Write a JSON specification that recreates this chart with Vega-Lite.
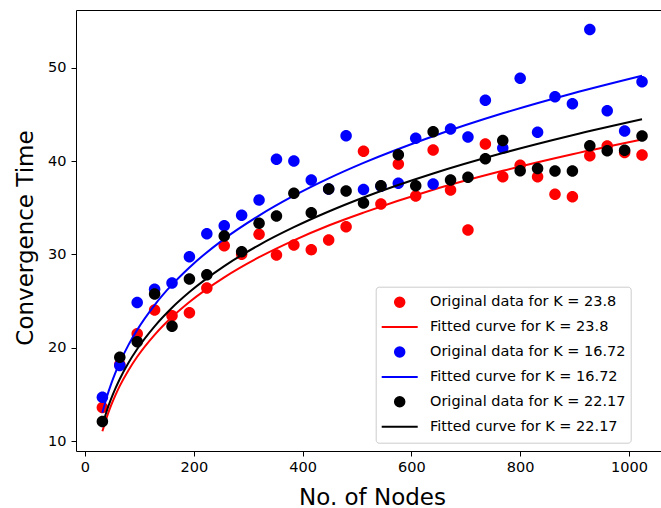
{
  "$schema": "https://vega.github.io/schema/vega-lite/v6.json",
  "autosize": {"type": "none"},
  "width": 586,
  "height": 441,
  "padding": {"left": 76, "top": 10, "right": 0, "bottom": 57},
  "background": "white",
  "config": {
    "view": {"stroke": "#000000", "strokeWidth": 1},
    "axis": {
      "domain": false, "grid": false, "ticks": true, "tickColor": "#000000", "tickSize": 5, "tickWidth": 1,
      "labelFont": "DejaVu Sans", "labelFontSize": 14.5, "labelColor": "#000000",
      "titleFont": "DejaVu Sans", "titleFontSize": 23, "titleFontWeight": "normal", "titleColor": "#000000"
    },
    "legend": {
      "orient": "none", "legendX": 299.7, "legendY": 276.7,
      "padding": 5, "rowPadding": 3.9, "clipHeight": 21,
      "labelFont": "DejaVu Sans", "labelFontSize": 14.5, "labelColor": "#000000", "labelOffset": 11.3, "labelLimit": 400,
      "symbolSize": 1296, "symbolStrokeWidth": 2, "symbolOpacity": 1,
      "fillColor": "rgba(255,255,255,0.8)", "strokeColor": "#cccccc", "cornerRadius": 3
    }
  },
  "datasets": {
    "redPts": [
      {"x": 32, "y": 13.6}, {"x": 64, "y": 18.2}, {"x": 96, "y": 21.5}, {"x": 128, "y": 24.04}, {"x": 160, "y": 23.43},
      {"x": 192, "y": 23.75}, {"x": 224, "y": 26.39}, {"x": 256, "y": 30.93}, {"x": 288, "y": 30.0}, {"x": 320, "y": 32.14},
      {"x": 352, "y": 29.93}, {"x": 384, "y": 31.0}, {"x": 416, "y": 30.5}, {"x": 448, "y": 31.54}, {"x": 480, "y": 32.96},
      {"x": 512, "y": 41.05}, {"x": 544, "y": 35.39}, {"x": 576, "y": 39.68}, {"x": 608, "y": 36.25}, {"x": 640, "y": 41.18},
      {"x": 672, "y": 36.89}, {"x": 704, "y": 32.6}, {"x": 736, "y": 41.82}, {"x": 768, "y": 38.32}, {"x": 800, "y": 39.55},
      {"x": 832, "y": 38.32}, {"x": 864, "y": 36.43}, {"x": 896, "y": 36.18}, {"x": 928, "y": 40.57}, {"x": 960, "y": 41.62},
      {"x": 992, "y": 40.9}, {"x": 1024, "y": 40.64}
    ],
    "redFit": [
      {"x": 32, "y": 11.04}, {"x": 40, "y": 12.54}, {"x": 48, "y": 13.81}, {"x": 56, "y": 14.92}, {"x": 64, "y": 15.91},
      {"x": 80, "y": 17.59}, {"x": 96, "y": 19.03}, {"x": 128, "y": 21.38}, {"x": 160, "y": 23.29}, {"x": 192, "y": 24.9},
      {"x": 256, "y": 27.54}, {"x": 320, "y": 29.69}, {"x": 384, "y": 31.5}, {"x": 448, "y": 33.09}, {"x": 512, "y": 34.47},
      {"x": 640, "y": 36.92}, {"x": 768, "y": 38.95}, {"x": 896, "y": 40.73}, {"x": 1024, "y": 42.31}
    ],
    "bluePts": [
      {"x": 32, "y": 14.68}, {"x": 64, "y": 18.1}, {"x": 96, "y": 24.85}, {"x": 128, "y": 26.25}, {"x": 160, "y": 26.93},
      {"x": 192, "y": 29.75}, {"x": 224, "y": 32.2}, {"x": 256, "y": 33.07}, {"x": 288, "y": 34.2}, {"x": 320, "y": 35.82},
      {"x": 352, "y": 40.2}, {"x": 384, "y": 40.0}, {"x": 416, "y": 37.96}, {"x": 448, "y": 37.0}, {"x": 480, "y": 42.71},
      {"x": 512, "y": 36.96}, {"x": 544, "y": 37.3}, {"x": 576, "y": 37.61}, {"x": 608, "y": 42.43}, {"x": 640, "y": 37.54},
      {"x": 672, "y": 43.43}, {"x": 704, "y": 42.57}, {"x": 736, "y": 46.5}, {"x": 768, "y": 41.4}, {"x": 800, "y": 48.86},
      {"x": 832, "y": 43.07}, {"x": 864, "y": 46.89}, {"x": 896, "y": 46.14}, {"x": 928, "y": 54.1}, {"x": 960, "y": 45.39},
      {"x": 992, "y": 43.21}, {"x": 1024, "y": 48.5}
    ],
    "blueFit": [
      {"x": 32, "y": 13.04}, {"x": 40, "y": 14.69}, {"x": 48, "y": 16.09}, {"x": 56, "y": 17.32}, {"x": 64, "y": 18.41},
      {"x": 80, "y": 20.3}, {"x": 96, "y": 21.91}, {"x": 128, "y": 24.57}, {"x": 160, "y": 26.75}, {"x": 192, "y": 28.6},
      {"x": 256, "y": 31.66}, {"x": 320, "y": 34.15}, {"x": 384, "y": 36.28}, {"x": 448, "y": 38.14}, {"x": 512, "y": 39.8},
      {"x": 640, "y": 42.66}, {"x": 768, "y": 45.11}, {"x": 896, "y": 47.24}, {"x": 1024, "y": 49.14}
    ],
    "blackPts": [
      {"x": 32, "y": 12.1}, {"x": 64, "y": 18.97}, {"x": 96, "y": 20.64}, {"x": 128, "y": 25.75}, {"x": 160, "y": 22.29},
      {"x": 192, "y": 27.36}, {"x": 224, "y": 27.82}, {"x": 256, "y": 31.96}, {"x": 288, "y": 30.29}, {"x": 320, "y": 33.32},
      {"x": 352, "y": 34.1}, {"x": 384, "y": 36.54}, {"x": 416, "y": 34.46}, {"x": 448, "y": 37.0}, {"x": 480, "y": 36.79},
      {"x": 512, "y": 35.5}, {"x": 544, "y": 37.36}, {"x": 576, "y": 40.68}, {"x": 608, "y": 37.36}, {"x": 640, "y": 43.14},
      {"x": 672, "y": 37.96}, {"x": 704, "y": 38.25}, {"x": 736, "y": 40.25}, {"x": 768, "y": 42.2}, {"x": 800, "y": 38.95},
      {"x": 832, "y": 39.21}, {"x": 864, "y": 38.93}, {"x": 896, "y": 38.93}, {"x": 928, "y": 41.64}, {"x": 960, "y": 41.1},
      {"x": 992, "y": 41.15}, {"x": 1024, "y": 42.68}
    ],
    "blackFit": [
      {"x": 32, "y": 11.7}, {"x": 40, "y": 13.22}, {"x": 48, "y": 14.51}, {"x": 56, "y": 15.64}, {"x": 64, "y": 16.65},
      {"x": 80, "y": 18.39}, {"x": 96, "y": 19.86}, {"x": 128, "y": 22.29}, {"x": 160, "y": 24.28}, {"x": 192, "y": 25.96},
      {"x": 256, "y": 28.74}, {"x": 320, "y": 31.0}, {"x": 384, "y": 32.91}, {"x": 448, "y": 34.59}, {"x": 512, "y": 36.09},
      {"x": 640, "y": 38.66}, {"x": 768, "y": 40.85}, {"x": 896, "y": 42.76}, {"x": 1024, "y": 44.47}
    ]
  },
  "encoding": {
    "x": {
      "field": "x", "type": "quantitative",
      "scale": {"domain": [-16.5, 1060.7], "nice": false, "zero": false},
      "axis": {
        "values": [0, 200, 400, 600, 800, 1000], "format": "d", "labelPadding": 4, "labelFlush": false,
        "title": "No. of Nodes", "titleX": 296, "titleY": 53, "titleBaseline": "alphabetic", "titleAlign": "center"
      }
    },
    "y": {
      "field": "y", "type": "quantitative",
      "scale": {"domain": [8.93, 56.18], "nice": false, "zero": false},
      "axis": {
        "values": [10, 20, 30, 40, 50], "format": "d", "labelPadding": 5,
        "title": "Convergence Time", "titleX": -44, "titleY": 227.5, "titleBaseline": "alphabetic", "titleAlign": "center", "titleAngle": 270
      }
    }
  },
  "layer": [
    {
      "data": {"name": "redPts"},
      "mark": {"type": "point", "filled": true, "size": 1897, "opacity": 1},
      "encoding": {
        "color": {
          "datum": "Original data for K = 23.8", "type": "nominal",
          "scale": {
            "domain": ["Original data for K = 23.8", "Fitted curve for K = 23.8", "Original data for K = 16.72", "Fitted curve for K = 16.72", "Original data for K = 22.17", "Fitted curve for K = 22.17"],
            "range": ["#ff0000", "#ff0000", "#0000ff", "#0000ff", "#000000", "#000000"]
          },
          "legend": {"title": null}
        },
        "shape": {
          "datum": "Original data for K = 23.8", "type": "nominal",
          "scale": {
            "domain": ["Original data for K = 23.8", "Fitted curve for K = 23.8", "Original data for K = 16.72", "Fitted curve for K = 16.72", "Original data for K = 22.17", "Fitted curve for K = 22.17"],
            "range": [
              "M-0.264,0A0.264,0.264,0,1,1,0.264,0A0.264,0.264,0,1,1,-0.264,0Z", "M-1,0H1",
              "M-0.264,0A0.264,0.264,0,1,1,0.264,0A0.264,0.264,0,1,1,-0.264,0Z", "M-1,0H1",
              "M-0.264,0A0.264,0.264,0,1,1,0.264,0A0.264,0.264,0,1,1,-0.264,0Z", "M-1,0H1"
            ]
          },
          "legend": {"title": null}
        }
      }
    },
    {
      "data": {"name": "redFit"},
      "mark": {"type": "line", "strokeWidth": 2, "interpolate": "monotone"},
      "encoding": {"color": {"datum": "Fitted curve for K = 23.8", "type": "nominal"}}
    },
    {
      "data": {"name": "bluePts"},
      "mark": {"type": "point", "filled": true, "size": 1897, "opacity": 1},
      "encoding": {
        "color": {"datum": "Original data for K = 16.72", "type": "nominal"},
        "shape": {"datum": "Original data for K = 16.72", "type": "nominal"}
      }
    },
    {
      "data": {"name": "blueFit"},
      "mark": {"type": "line", "strokeWidth": 2, "interpolate": "monotone"},
      "encoding": {"color": {"datum": "Fitted curve for K = 16.72", "type": "nominal"}}
    },
    {
      "data": {"name": "blackPts"},
      "mark": {"type": "point", "filled": true, "size": 1897, "opacity": 1},
      "encoding": {
        "color": {"datum": "Original data for K = 22.17", "type": "nominal"},
        "shape": {"datum": "Original data for K = 22.17", "type": "nominal"}
      }
    },
    {
      "data": {"name": "blackFit"},
      "mark": {"type": "line", "strokeWidth": 2, "interpolate": "monotone"},
      "encoding": {"color": {"datum": "Fitted curve for K = 22.17", "type": "nominal"}}
    }
  ]
}
